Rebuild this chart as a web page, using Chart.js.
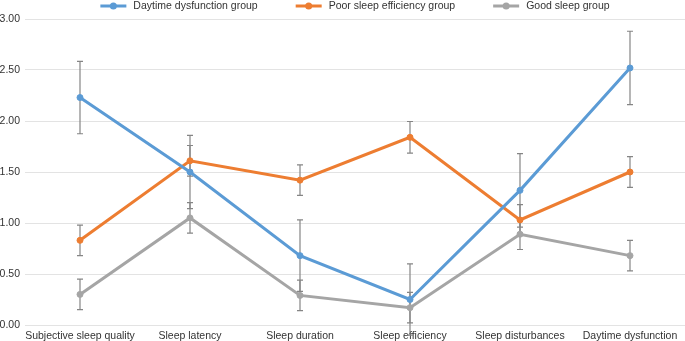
<!DOCTYPE html>
<html>
<head>
<meta charset="utf-8">
<script src="https://cdn.jsdelivr.net/npm/chart.js@4.4.1/dist/chart.umd.min.js"></script>
<style>
  html, body { margin: 0; padding: 0; background: #ffffff; }
  #wrap { width: 685px; height: 341px; position: relative; }
</style>
</head>
<body>
<div id="wrap"><canvas id="c" width="685" height="341"></canvas></div>
<script>
const categories = ["Subjective sleep quality", "Sleep latency", "Sleep duration", "Sleep efficiency", "Sleep disturbances", "Daytime dysfunction"];
const seriesNames = ["Daytime dysfunction group", "Poor sleep efficiency group", "Good sleep group"];
const daytimeValues = [2.23, 1.50, 0.68, 0.25, 1.32, 2.52];
const daytimeErrors = [0.355, 0.36, 0.35, 0.35, 0.36, 0.36];
const poorValues = [0.83, 1.61, 1.42, 1.84, 1.03, 1.50];
const poorErrors = [0.15, 0.15, 0.15, 0.155, 0.15, 0.15];
const goodValues = [0.30, 1.05, 0.29, 0.17, 0.89, 0.68];
const goodErrors = [0.15, 0.15, 0.15, 0.15, 0.15, 0.15];
const yTicks = [0, 0.5, 1, 1.5, 2, 2.5, 3];

const FONT = '"Liberation Sans", Arial, Helvetica, sans-serif';
const TEXT = '#333333';
const colors = ['#5B9BD5', '#ED7D31', '#A5A5A5'];

const errorBarPlugin = {
  id: 'errorBars',
  beforeDatasetsDraw(chart) {
    const ctx = chart.ctx;
    const y = chart.scales.y;
    ctx.save();
    ctx.strokeStyle = '#858585';
    ctx.lineWidth = 1.2;
    chart.data.datasets.forEach((ds, di) => {
      const meta = chart.getDatasetMeta(di);
      meta.data.forEach((pt, i) => {
        const v = ds.data[i];
        const e = ds.errors[i];
        const yt = y.getPixelForValue(v + e);
        const yb = y.getPixelForValue(v - e);
        const x = pt.x;
        ctx.beginPath();
        ctx.moveTo(x, yt); ctx.lineTo(x, yb);
        ctx.moveTo(x - 3, yt); ctx.lineTo(x + 3, yt);
        ctx.moveTo(x - 3, yb); ctx.lineTo(x + 3, yb);
        ctx.stroke();
      });
    });
    ctx.restore();
  }
};

const legendPlugin = {
  id: 'customLegend',
  afterDraw(chart) {
    const ctx = chart.ctx;
    const area = chart.chartArea;
    ctx.save();
    ctx.font = '10.5px ' + FONT;
    const lineLen = 26, gap = 7, itemGap = 38;
    const items = chart.data.datasets.map(ds => ({
      label: ds.label, color: ds.borderColor, w: lineLen + gap + ctx.measureText(ds.label).width
    }));
    const total = items.reduce((s, it) => s + it.w, 0) + itemGap * (items.length - 1);
    let x = (area.left + area.right) / 2 - total / 2;
    const yc = 6;
    items.forEach(it => {
      ctx.strokeStyle = it.color;
      ctx.lineWidth = 3;
      ctx.beginPath();
      ctx.moveTo(x, yc); ctx.lineTo(x + lineLen, yc);
      ctx.stroke();
      ctx.fillStyle = it.color;
      ctx.beginPath();
      ctx.arc(x + lineLen / 2, yc, 3.5, 0, Math.PI * 2);
      ctx.fill();
      ctx.fillStyle = TEXT;
      ctx.textBaseline = 'middle';
      ctx.textAlign = 'left';
      ctx.fillText(it.label, x + lineLen + gap, yc + 0.5);
      x += it.w + itemGap;
    });
    ctx.restore();
  }
};

function mkDataset(label, values, errors, color) {
  return {
    label: label,
    data: values,
    errors: errors,
    borderColor: color,
    backgroundColor: color,
    borderWidth: 3,
    pointRadius: 3,
    pointBorderWidth: 1,
    pointBorderColor: color,
    pointBackgroundColor: color,
    tension: 0,
    fill: false
  };
}

new Chart(document.getElementById('c'), {
  type: 'line',
  data: {
    labels: categories,
    datasets: [
      mkDataset(seriesNames[0], daytimeValues, daytimeErrors, colors[0]),
      mkDataset(seriesNames[1], poorValues, poorErrors, colors[1]),
      mkDataset(seriesNames[2], goodValues, goodErrors, colors[2])
    ]
  },
  options: {
    responsive: false,
    animation: false,
    devicePixelRatio: 1,
    layout: { autoPadding: false, padding: { top: 19, right: 0, bottom: 0, left: 0 } },
    plugins: {
      legend: { display: false },
      tooltip: { enabled: false }
    },
    scales: {
      x: {
        type: 'category',
        offset: true,
        grid: { display: false, drawTicks: false },
        border: { display: false },
        ticks: { color: TEXT, font: { family: FONT, size: 10.5 }, padding: 5, maxRotation: 0, autoSkip: false },
        afterFit(scale) {
          scale.height = 16;
          scale.paddingLeft = 0; scale.paddingRight = 0;
        }
      },
      y: {
        min: 0,
        max: 3,
        afterBuildTicks(scale) { scale.ticks = yTicks.map(v => ({ value: v })); },
        grid: { color: '#e3e3e3', lineWidth: 1, drawTicks: false },
        border: { display: false },
        ticks: {
          color: TEXT,
          font: { family: FONT, size: 10.5 },
          padding: 5,
          callback: v => Number(v).toFixed(2)
        },
        afterFit(scale) {
          scale.width = 25;
          scale.paddingTop = 0; scale.paddingBottom = 0;
        }
      }
    }
  },
  plugins: [errorBarPlugin, legendPlugin]
});
</script>
</body>
</html>
